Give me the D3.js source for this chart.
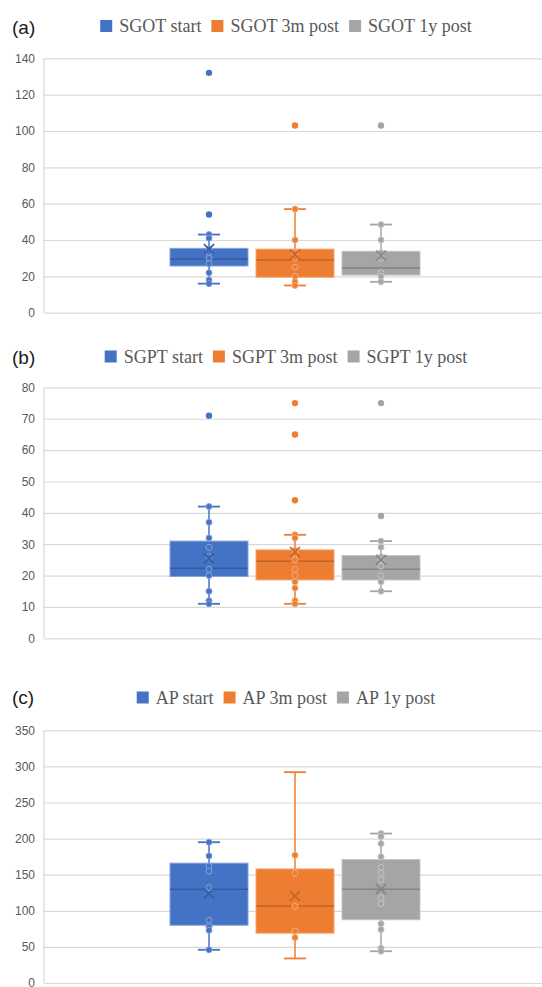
<!DOCTYPE html>
<html>
<head>
<meta charset="utf-8">
<script src="https://cdn.jsdelivr.net/npm/d3@7"></script>
<style>
  body { margin: 0; background: #fff; }
  svg { display: block; }
</style>
</head>
<body>
<div id="main"></div>
<script>
///////////
// DATA  //
///////////

// (a) SGOT
const sgotSeries   = ['SGOT start', 'SGOT 3m post', 'SGOT 1y post']
const sgotLow      = [16, 15, 17]
const sgotQ1       = [25.7, 19.5, 20.7]
const sgotMedian   = [29.5, 29, 24.6]
const sgotQ3       = [35.4, 35, 33.8]
const sgotHigh     = [43, 57, 48.5]
const sgotMean     = [35, 32, 31.5]
const sgotPoints   = [[43, 41, 35, 33, 30, 27, 22, 18, 16], [57, 40, 33, 30, 25, 20, 17, 15], [48.5, 40, 33, 30, 22, 20, 17]]
const sgotOutliers = [[54, 132], [103], [103]]
const sgotTicks    = [0, 20, 40, 60, 80, 100, 120, 140]

// (b) SGPT
const sgptSeries   = ['SGPT start', 'SGPT 3m post', 'SGPT 1y post']
const sgptLow      = [11, 11, 15]
const sgptQ1       = [19.7, 18.6, 18.6]
const sgptMedian   = [22.3, 24.6, 22]
const sgptQ3       = [31, 28.2, 26.4]
const sgptHigh     = [42, 33, 31]
const sgptMean     = [25.5, 27.5, 25]
const sgptPoints   = [[42, 37, 32, 29, 26, 22, 20, 15, 12, 11], [33, 32, 28, 27, 25, 22, 20, 18, 16, 12, 11], [31, 29, 26, 25, 23, 20, 18, 15]]
const sgptOutliers = [[71], [44, 65, 75], [39, 75]]
const sgptTicks    = [0, 10, 20, 30, 40, 50, 60, 70, 80]

// (c) AP
const apSeries     = ['AP start', 'AP 3m post', 'AP 1y post']
const apLow        = [46, 34, 44]
const apQ1         = [80, 69, 87.6]
const apMedian     = [129.7, 106.6, 129.7]
const apQ3         = [166, 158, 171]
const apHigh       = [195, 292, 207]
const apMean       = [124, 120.5, 130]
const apPoints     = [[195, 176, 162, 155, 132, 87, 78, 73, 46], [177, 152, 106, 72, 63], [207, 203, 193, 175, 160, 152, 143, 118, 110, 82, 74, 48, 44]]
const apOutliers   = [[], [], []]
const apTicks      = [0, 50, 100, 150, 200, 250, 300, 350]

// COLORS
const colors = ['#4472C4', '#ED7D31', '#A5A5A5']
const gridColor = '#d9d9d9'
const textColor = '#595959'

///////////
// SETUP //
///////////

const width = 542
const height = 987
const plotLeft = 44
const plotRight = 546

function build(label, series, low, q1, med, q3, high, mean, pts, outs, ticks, layout) {
  return {
    label, ticks, layout,
    boxes: series.map((s, i) => ({
      name: s, color: colors[i],
      low: low[i], q1: q1[i], median: med[i], q3: q3[i], high: high[i],
      mean: mean[i], points: pts[i], outliers: outs[i]
    }))
  }
}

const panels = [
  build('(a)', sgotSeries, sgotLow, sgotQ1, sgotMedian, sgotQ3, sgotHigh, sgotMean, sgotPoints, sgotOutliers, sgotTicks,
        {top: 58.3, bottom: 312.7, labelY: 27, legendY: 26}),
  build('(b)', sgptSeries, sgptLow, sgptQ1, sgptMedian, sgptQ3, sgptHigh, sgptMean, sgptPoints, sgptOutliers, sgptTicks,
        {top: 387.4, bottom: 638.3, labelY: 357, legendY: 356.5}),
  build('(c)', apSeries, apLow, apQ1, apMedian, apQ3, apHigh, apMean, apPoints, apOutliers, apTicks,
        {top: 730.3, bottom: 983, labelY: 697, legendY: 697.5})
]

let svg = d3.select('#main').append('svg')
  .attr('width', width)
  .attr('height', height)

//////////
// DRAW //
//////////

panels.forEach(drawPanel)

function drawPanel(p) {
  let g = svg.append('g')
  let L = p.layout

  let y = d3.scaleLinear()
    .domain([0, d3.max(p.ticks)])
    .range([L.bottom, L.top])

  let center = (plotLeft + plotRight) / 2
  let x = d3.scaleBand()
    .domain(p.boxes.map(d => d.name))
    .range([center - 125, center + 125])
    .paddingInner(0.093)

  // grid + axis
  let axis = d3.axisLeft(y)
    .tickValues(p.ticks)
    .tickSize(-(plotRight - plotLeft))
    .tickPadding(9)
    .tickFormat(d3.format('d'))

  let ag = g.append('g')
    .attr('transform', `translate(${plotLeft},0)`)
    .call(axis)
  ag.select('.domain').remove()
  ag.selectAll('line').attr('stroke', gridColor).attr('stroke-width', 1.2)
  ag.selectAll('text')
    .attr('fill', textColor)
    .style('font-family', 'Liberation Sans, Arial, sans-serif')
    .style('font-size', '12px')

  g.append('line')
    .attr('x1', plotLeft).attr('x2', plotLeft)
    .attr('y1', L.top).attr('y2', L.bottom)
    .attr('stroke', gridColor).attr('stroke-width', 1.2)

  // panel label
  g.append('text')
    .attr('x', 12)
    .attr('y', L.labelY)
    .attr('dy', '0.35em')
    .attr('fill', '#1a1a1a')
    .style('font-family', 'Liberation Sans, Arial, sans-serif')
    .style('font-size', '19px')
    .text(p.label)

  // legend
  let lg = g.append('g')
  let cx = 0
  p.boxes.forEach((b, i) => {
    lg.append('rect')
      .attr('x', cx).attr('y', L.legendY - 6)
      .attr('width', 12).attr('height', 12)
      .attr('fill', b.color)
    let t = lg.append('text')
      .attr('x', cx + 19)
      .attr('y', L.legendY)
      .attr('dy', '0.36em')
      .attr('fill', textColor)
      .style('font-family', 'Liberation Serif, Times New Roman, serif')
      .style('font-size', '18px')
      .text(b.name)
    cx += 19 + t.node().getComputedTextLength() + 10
  })
  let lw = cx - 10
  lg.attr('transform', `translate(${286 - lw / 2},0)`)

  // boxes
  p.boxes.forEach(b => {
    let x0 = x(b.name)
    let bw = x.bandwidth()
    let mx = x0 + bw / 2
    let dark = d3.color(b.color).darker(0.6).formatHex()
    let light = d3.interpolateRgb(b.color, '#ffffff')(0.35)
    let bg = g.append('g')

    // whiskers
    bg.append('line')
      .attr('x1', mx).attr('x2', mx)
      .attr('y1', y(b.high)).attr('y2', y(b.q3))
      .attr('stroke', b.color).attr('stroke-width', 1.5)
    bg.append('line')
      .attr('x1', mx).attr('x2', mx)
      .attr('y1', y(b.q1)).attr('y2', y(b.low))
      .attr('stroke', b.color).attr('stroke-width', 1.5)
    bg.selectAll('line.cap')
      .data([b.high, b.low])
      .enter().append('line')
        .attr('class', 'cap')
        .attr('x1', mx - 11).attr('x2', mx + 11)
        .attr('y1', d => y(d)).attr('y2', d => y(d))
        .attr('stroke', b.color).attr('stroke-width', 1.8)

    // box
    bg.append('rect')
      .attr('x', x0).attr('y', y(b.q3))
      .attr('width', bw).attr('height', y(b.q1) - y(b.q3))
      .attr('fill', b.color)
      .attr('stroke', light).attr('stroke-width', 1)

    // median
    bg.append('line')
      .attr('x1', x0).attr('x2', x0 + bw)
      .attr('y1', y(b.median)).attr('y2', y(b.median))
      .attr('stroke', dark).attr('stroke-width', 1.5)

    // inner points
    bg.selectAll('circle.pt')
      .data(b.points)
      .enter().append('circle')
        .attr('class', 'pt')
        .attr('cx', mx).attr('cy', d => y(d))
        .attr('r', 3)
        .attr('fill', b.color)
        .attr('stroke', light).attr('stroke-width', 1)

    // outliers
    bg.selectAll('circle.out')
      .data(b.outliers)
      .enter().append('circle')
        .attr('class', 'out')
        .attr('cx', mx).attr('cy', d => y(d))
        .attr('r', 3.2)
        .attr('fill', b.color)

    // mean
    let my = y(b.mean), s = 5
    bg.append('path')
      .attr('d', `M${mx - s},${my - s}L${mx + s},${my + s}M${mx - s},${my + s}L${mx + s},${my - s}`)
      .attr('stroke', dark).attr('stroke-width', 1.6)
      .attr('fill', 'none')
  })
}
</script>
</body>
</html>
